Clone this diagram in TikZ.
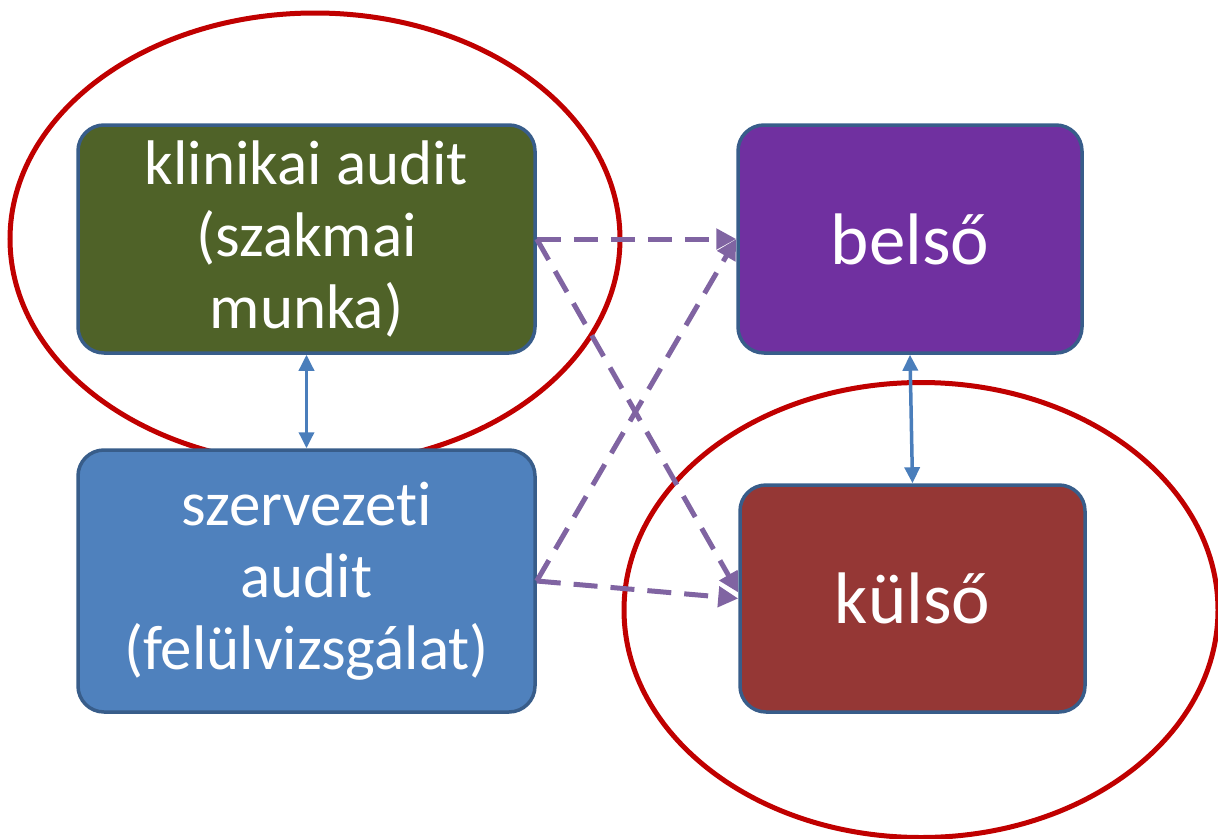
\documentclass[tikz,border=0pt]{standalone}
\usepackage{fontspec}
\setmainfont[RawFeature=-liga]{Carlito}
\usetikzlibrary{arrows.meta,shapes.geometric}
\definecolor{boxborder}{HTML}{385D8A}
\definecolor{olive}{HTML}{4F6228}
\definecolor{violet}{HTML}{7030A0}
\definecolor{steel}{HTML}{4F81BD}
\definecolor{brick}{HTML}{953735}
\definecolor{ringred}{HTML}{C00000}
\definecolor{dashpurple}{HTML}{8064A2}
\definecolor{arrowblue}{HTML}{4A7EBB}
\tikzset{
  box/.style={draw=boxborder, line width=3.5pt, rounded corners=26pt, text=white, align=center, inner sep=0pt},
  smalltxt/.style={font=\fontsize{63}{72}\selectfont},
  bigtxt/.style={font=\fontsize{73}{80}\selectfont},
  ring/.style={draw=ringred, line width=5pt},
  link/.style={draw=dashpurple, line width=5pt, dash pattern=on 24pt off 13pt, -{Triangle[length=20pt,width=20pt]}},
  vlink/.style={draw=arrowblue, line width=3.5pt, {Triangle[length=16pt,width=15pt]}-{Triangle[length=16pt,width=15pt]}}
}
\begin{document}
\begin{tikzpicture}[x=1pt,y=-1pt]
\useasboundingbox (0,0) rectangle (1218,838);
\node[ring, ellipse, minimum width=610pt, minimum height=452pt] (r1) at (315,239) {};
\node[ring, ellipse, minimum width=594pt, minimum height=455pt] (r2) at (921,610) {};
\node[box, smalltxt, fill=olive, minimum width=457pt, minimum height=228pt] (klin) at (306.5,239) {klinikai audit\\(szakmai\\munka)};
\node[box, bigtxt, fill=violet, minimum width=344pt, minimum height=228pt] (bel) at (910,239) {belső};
\node[box, smalltxt, fill=steel, minimum width=457pt, minimum height=262pt] (szer) at (306.5,581) {szervezeti\\audit\\(felülvizsgálat)};
\node[box, bigtxt, fill=brick, minimum width=345pt, minimum height=227pt] (kul) at (912.5,598.5) {külső};
\draw[vlink] (klin.south) -- (szer.north);
\draw[vlink] (bel.south) -- (kul.north);
\draw[link] (klin.east) -- (bel.west);
\draw[link] (klin.east) -- ([yshift=6pt]kul.west);
\draw[link] (szer.east) -- (bel.west);
\draw[link] (szer.east) -- (kul.west);
\end{tikzpicture}
\end{document}
